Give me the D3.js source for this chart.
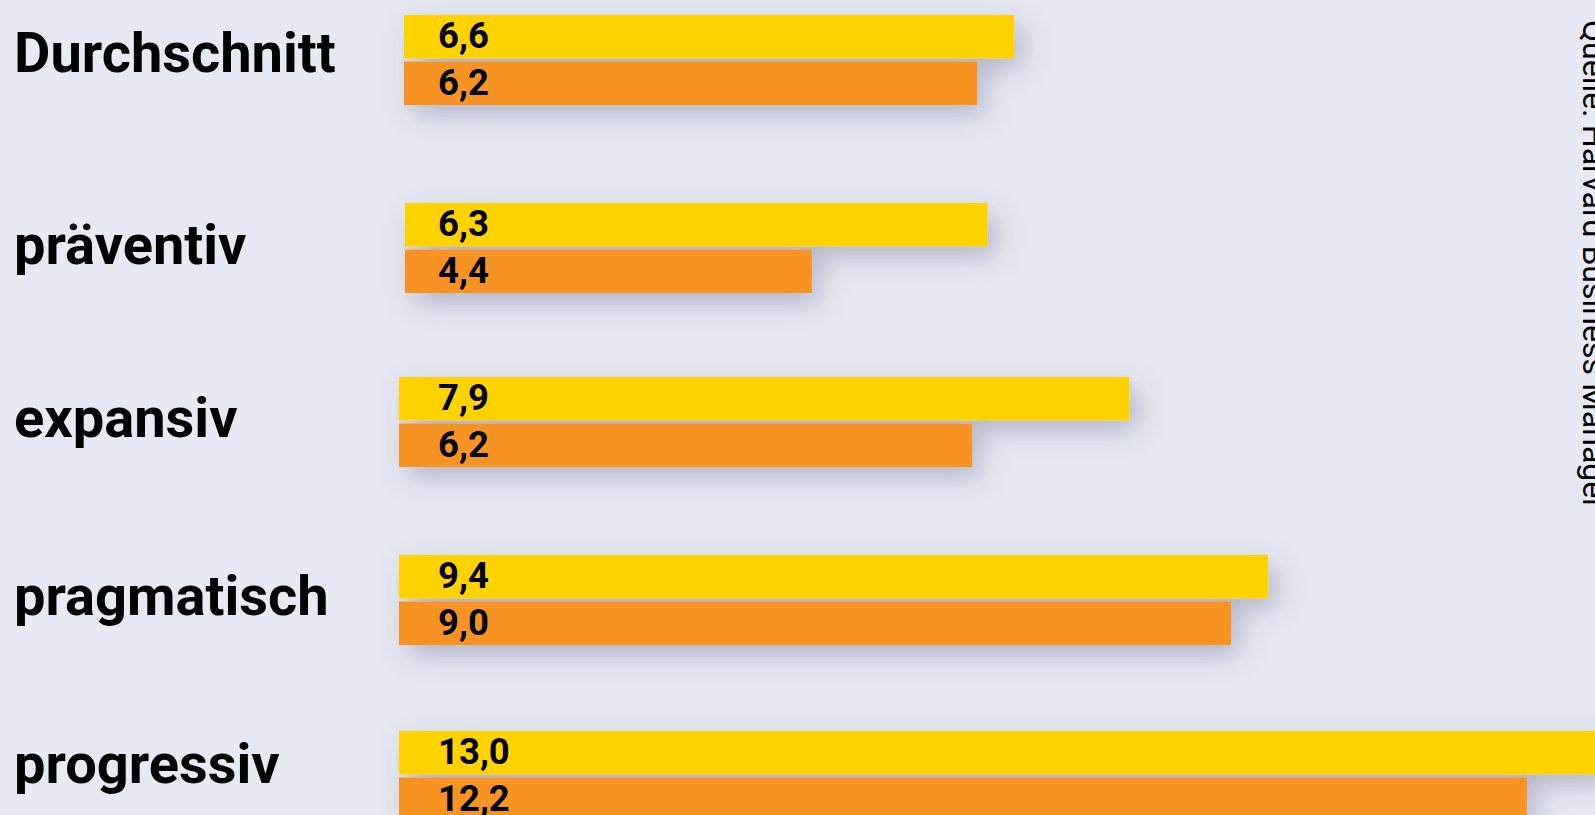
<!DOCTYPE html>
<html>
<head>
<meta charset="utf-8">
<script src="https://cdn.jsdelivr.net/npm/d3@7"></script>
<style>
  html, body { margin: 0; padding: 0; background: #e7e9f4; overflow: hidden; }
  svg { display: block; }
</style>
</head>
<body>
<svg id="chart"></svg>
<script>
// data
const categories = ['Durchschnitt', 'präventiv', 'expansiv', 'pragmatisch', 'progressiv'];
const yellowValues = [6.6, 6.3, 7.9, 9.4, 13.0];
const orangeValues = [6.2, 4.4, 6.2, 9.0, 12.2];
const sourceText = 'Quelle: Harvard Business Manager';

// layout
const width = 1595;
const height = 815;
const groupTops = [15, 203, 377, 555, 731];
const groupLefts = [404, 405, 399, 399, 399];
const labelBaselines = [72, 264, 437, 615, 783];
const barH = 43.5;
const barStep = 46.5;

const fmt = v => d3.format('.1f')(v).replace('.', ',');

const svg = d3.select('#chart')
  .attr('width', width)
  .attr('height', height);

const defs = svg.append('defs');
const shadow = defs.append('filter')
  .attr('id', 'shadow')
  .attr('x', '-20%').attr('y', '-100%')
  .attr('width', '140%').attr('height', '300%');
shadow.append('feDropShadow')
  .attr('dx', 8).attr('dy', 10)
  .attr('stdDeviation', 14)
  .attr('flood-color', '#3c4266')
  .attr('flood-opacity', 0.32);

svg.append('rect')
  .attr('width', width).attr('height', height)
  .attr('fill', '#e7e9f4');

// scales
const x = d3.scaleLinear().domain([0, 13]).range([0, 1202]);
const yTop = d3.scaleOrdinal(categories, groupTops);
const xLeft = d3.scaleOrdinal(categories, groupLefts);
const yLabel = d3.scaleOrdinal(categories, labelBaselines);

const rows = categories.map((c, i) => ({cat: c, vals: [yellowValues[i], orangeValues[i]]}));
const colors = ['#ffd200', '#f79321'];

const groups = svg.selectAll('g.group')
  .data(rows)
  .join('g')
  .attr('class', 'group');

// bars with shadow
groups.append('g')
  .attr('filter', 'url(#shadow)')
  .selectAll('rect')
  .data(d => d.vals.map((v, j) => ({cat: d.cat, v: v, j: j})))
  .join('rect')
  .attr('x', d => xLeft(d.cat))
  .attr('y', d => yTop(d.cat) + d.j * barStep)
  .attr('width', d => x(d.v))
  .attr('height', barH)
  .attr('fill', d => colors[d.j]);

// value labels
groups.selectAll('text.val')
  .data(d => d.vals.map((v, j) => ({cat: d.cat, v: v, j: j})))
  .join('text')
  .attr('class', 'val')
  .attr('x', 438)
  .attr('y', d => yTop(d.cat) + d.j * barStep + 33)
  .attr('font-family', 'Roboto, sans-serif')
  .attr('font-weight', 700)
  .attr('font-size', 36.5)
  .attr('fill', '#000')
  .text(d => fmt(d.v));

// category labels
groups.append('text')
  .attr('x', 14)
  .attr('y', d => yLabel(d.cat))
  .attr('font-family', 'Roboto, sans-serif')
  .attr('font-weight', 700)
  .attr('font-size', 56)
  .attr('fill', '#000')
  .text(d => d.cat);

// source, rotated and cut by the right edge
svg.append('text')
  .attr('transform', 'translate(1583,20) rotate(90)')
  .attr('font-family', 'Roboto, sans-serif')
  .attr('font-size', 32)
  .attr('fill', '#000')
  .text(sourceText);
</script>
</body>
</html>
